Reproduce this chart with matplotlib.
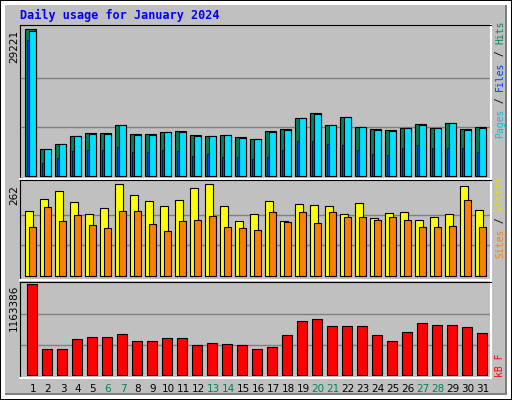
import matplotlib
matplotlib.use("Agg")
import matplotlib.pyplot as plt
from matplotlib.patches import Rectangle
import numpy as np

days = list(range(1, 32))
weekend = [6, 7, 13, 14, 20, 21, 27, 28]

hits = [29221, 5360, 6360, 7950, 8550, 8550, 10140, 8350, 8350, 8750, 8950, 8150,
        7950, 8150, 7750, 7350, 8950, 9340, 11530, 12520, 10140, 11730, 9740, 9340,
        9140, 9540, 10340, 9540, 10540, 9340, 9740]
pages = [28800, 5360, 6360, 7950, 8350, 8350, 10140, 8150, 8150, 8750, 8750, 7950,
         7950, 8150, 7550, 7350, 8750, 9140, 11530, 12330, 10140, 11730, 9740, 9140,
         8950, 9540, 10140, 9540, 10540, 9140, 9540]
files = [26970, 2580, 3580, 4970, 5170, 5170, 5760, 4770, 4770, 5170, 4970, 3970,
         4370, 3780, 3780, 3380, 3780, 5170, 6960, 6960, 6360, 6160, 5170, 4370,
         4170, 5560, 6160, 5560, 5560, 5560, 4770]

visits = [185, 219, 242, 211, 176, 193, 262, 230, 213, 199, 216, 250,
          262, 199, 157, 176, 213, 157, 205, 202, 199, 176, 208, 165,
          180, 183, 160, 168, 176, 256, 189]
sites = [140, 197, 157, 174, 145, 136, 185, 185, 148, 128, 157, 159,
         171, 140, 136, 131, 182, 154, 182, 151, 182, 168, 168, 159,
         168, 159, 140, 140, 142, 216, 140]

kbytes = [1163386, 332500, 332500, 460300, 485900, 485900, 524200, 434700, 434700, 473000,
          473000, 383500, 409100, 396300, 383500, 332500, 358000, 511400, 690300, 715800,
          626300, 626300, 626300, 511400, 434700, 549700, 664700, 639100, 639100, 613600,
          536900]

W, H = 512, 400
fig = plt.figure(figsize=(W / 100, H / 100), dpi=100)
fig.patch.set_facecolor("#c0c0c0")


def px(x0, y0, x1, y1):
    return [x0 / W, 1 - y1 / H, (x1 - x0) / W, (y1 - y0) / H]


def frect(x0, y0, x1, y1, color):
    fig.add_artist(Rectangle((x0 / W, 1 - y1 / H), (x1 - x0) / W, (y1 - y0) / H,
                             transform=fig.transFigure, facecolor=color,
                             edgecolor="none", zorder=-10))


# bevelled border
frect(0, 0, 512, 400, "black")
frect(1, 1, 511, 399, "white")
frect(5, 5, 507, 395, "#808080")
frect(5, 5, 505, 393, "#c0c0c0")

fig.text(20 / W, 1 - 15 / H, "Daily usage for January 2024", color="#0000ff",
         family="DejaVu Sans Mono", weight="bold", fontsize=8.5, va="center")

x = np.arange(31)
SL = 15.0


def panel(y0, y1, base_off, top_off, vmax):
    ax = fig.add_axes(px(20, y0, 491, y1))
    ax.set_facecolor("#c0c0c0")
    span = (y1 - y0) - base_off - top_off
    ax.set_xlim(0, 471 / SL)
    ax.set_ylim(-base_off / span * vmax, vmax * (1 + top_off / span))
    for f in (1 / 3, 2 / 3):
        ax.axhline(vmax * f, color="#808080", lw=1, zorder=0)
    ax.set_xticks([])
    ax.set_yticks([])
    for s in ax.spines.values():
        s.set_color("black")
    ax.spines["right"].set_color("white")
    ax.spines["bottom"].set_color("white")
    ax.spines["right"].set_linewidth(1.5)
    ax.spines["bottom"].set_linewidth(1.5)
    fig.text(14 / W, 1 - (y0 + top_off + 1) / H, f"{vmax}", rotation=90,
             ha="center", va="top", fontsize=7.5)
    return ax


def side_label(parts, y_bottom):
    y = y_bottom
    for txt, col in parts:
        fig.text(500 / W, 1 - y / H, txt, rotation=90, color=col, ha="center",
                 va="bottom", family="DejaVu Sans Mono", fontsize=7)
        y -= len(txt) * 5.85


kw = dict(align="edge", edgecolor="black", linewidth=0.8)

ax1 = panel(25, 179, 3, 4, 29221)
ax1.bar(x + 5 / SL, hits, width=11 / SL, color="#00805c", **kw)
ax1.bar(x + 9 / SL, pages, width=7 / SL, color="#00e0ff", **kw)
ax1.bar(x + 7 / SL, files, width=2 / SL, color="#0040ff", align="edge",
        edgecolor="black", linewidth=0.5)
side_label([("Pages", "#00c0e0"), (" / ", "black"), ("Files", "#0040ff"),
            (" / ", "black"), ("Hits", "#00805c")], 138)

ax2 = panel(180, 280, 4, 4, 262)
ax2.bar(x + 5 / SL, visits, width=8 / SL, color="#ffff00", **kw)
ax2.bar(x + 9 / SL, sites, width=7 / SL, color="#ff8000", **kw)
side_label([("Sites", "#ff8000"), (" / ", "black"), ("Visits", "#e0e000")], 258)

ax3 = panel(282, 378, 3, 2, 1163386)
ax3.bar(x + 7 / SL, kbytes, width=10 / SL, color="#ff0000", **kw)
side_label([("kB F", "#ff0000")], 377)

for d in days:
    col = "#00805c" if d in weekend else "black"
    fig.text((20 + (d - 1) * SL + 13) / W, 1 - 389 / H, str(d), color=col,
             ha="center", va="center", fontsize=7.5)

fig.savefig("out.png", dpi=100, facecolor=fig.get_facecolor())
